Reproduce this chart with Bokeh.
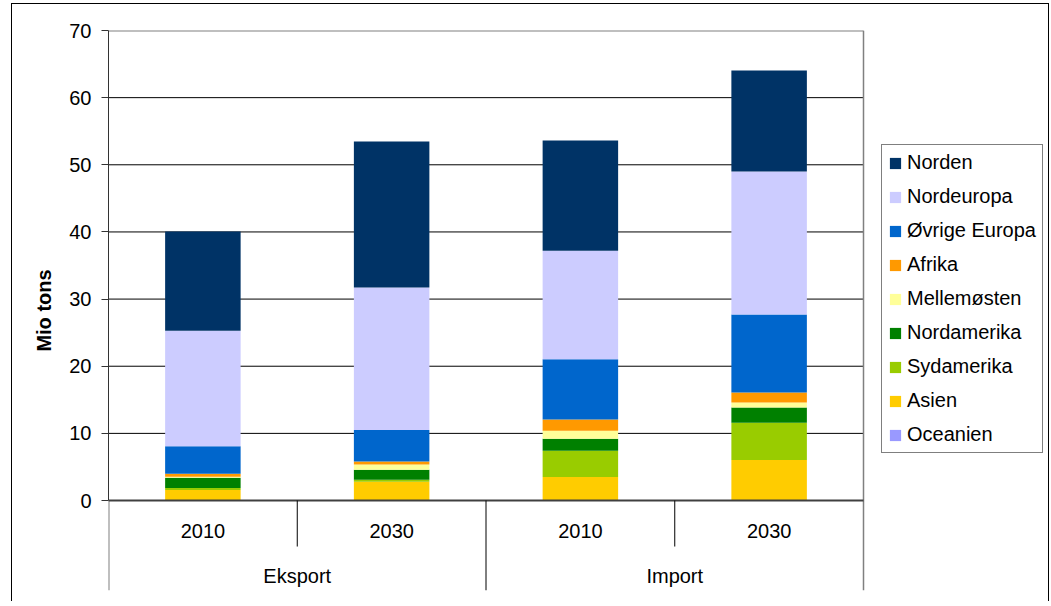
from bokeh.plotting import figure
from bokeh.models import Range1d, FixedTicker, Legend, LegendItem, ColumnDataSource
from bokeh.core.properties import value
from bokeh.embed import file_html
from bokeh.resources import INLINE

# ---------------- data ----------------
groups = ["Eksport", "Import"]
years = ["2010", "2030"]
regions = ["Oceanien", "Asien", "Sydamerika", "Nordamerika", "Mellemøsten",
           "Afrika", "Øvrige Europa", "Nordeuropa", "Norden"]
colors = ["#9999FF", "#FFCC00", "#99CC00", "#008000", "#FFFF99",
          "#FF9900", "#0066CC", "#CCCCFF", "#003366"]
oceanien = [0.0, 0.0, 0.0, 0.0]
asien = [1.57, 2.78, 3.5, 6.05]
sydamerika = [0.3, 0.3, 3.9, 5.55]
nordamerika = [1.52, 1.52, 1.8, 2.25]
mellemosten = [0.15, 0.76, 1.2, 0.75]
afrika = [0.45, 0.45, 1.65, 1.5]
ovrige_europa = [4.09, 4.7, 9.0, 11.6]
nordeuropa = [17.2, 21.23, 16.15, 21.3]
norden = [14.8, 21.74, 16.4, 15.05]
y_ticks = [0, 10, 20, 30, 40, 50, 60, 70]
y_label = "Mio tons"

series = [oceanien, asien, sydamerika, nordamerika, mellemosten,
          afrika, ovrige_europa, nordeuropa, norden]

FONT = "Liberation Sans"
n_cat = len(groups) * len(years)
x_pos = [i + 0.5 for i in range(n_cat)]
cat_year = [y for g in groups for y in years]

# layout (pixels)
W, H = 1038, 598
B_LEFT, B_TOP, B_BOTTOM, B_RIGHT = 96, 26, 12, 2
PLOT_W = 755  # width of the category area
frame_w = W - B_LEFT - B_RIGHT
x_end = n_cat * frame_w / PLOT_W

y_min = -13.4
y_max = 70

data = {"x": x_pos}
keys = []
for i, s in enumerate(series):
    k = "s%d" % i
    keys.append(k)
    data[k] = s
source = ColumnDataSource(data)

p = figure(width=W, height=H, output_backend="svg", toolbar_location=None,
           x_range=Range1d(0, x_end), y_range=Range1d(y_min, y_max),
           x_axis_location=None, min_border_left=B_LEFT, min_border_top=B_TOP,
           min_border_bottom=B_BOTTOM, min_border_right=B_RIGHT)
p.styles = {"margin-top": "3px", "margin-left": "11px",
            "border-top": "1px solid #000", "border-left": "1px solid #000",
            "border-right": "1px solid #000"}
p.background_fill_color = "white"
p.border_fill_color = "white"
p.outline_line_color = None
p.xgrid.visible = False
p.ygrid.visible = False

# grid lines (category area only)
gticks = [t for t in y_ticks if 0 < t < y_max]
p.segment(x0=[0] * len(gticks), y0=gticks, x1=[n_cat] * len(gticks), y1=gticks,
          line_color="#000000", line_width=1)

# bars
renderers = p.vbar_stack(keys, x="x", width=0.4, color=colors, line_color=None,
                         source=source)

# frame lines
p.segment(x0=[0], y0=[y_max], x1=[n_cat], y1=[y_max], line_color="#808080", line_width=2)
p.segment(x0=[n_cat], y0=[y_min], x1=[n_cat], y1=[y_max], line_color="#808080", line_width=1.5)
p.segment(x0=[0], y0=[y_min], x1=[0], y1=[0], line_color="#808080", line_width=2)
p.segment(x0=[0], y0=[0], x1=[n_cat], y1=[0], line_color="#404040", line_width=2)

# category separators
year_div = [i for i in range(1, n_cat) if i % len(years) != 0]
group_div = [i for i in range(1, n_cat) if i % len(years) == 0]
p.segment(x0=year_div, y0=[0] * len(year_div), x1=year_div, y1=[-6.85] * len(year_div),
          line_color="#000000", line_width=1)
p.segment(x0=group_div, y0=[0] * len(group_div), x1=group_div, y1=[y_min] * len(group_div),
          line_color="#000000", line_width=1)

# category labels
p.text(x=x_pos, y=[-4.5] * n_cat, text=cat_year, text_font=value(FONT),
       text_font_size="20px", text_align="center", text_baseline="middle",
       text_color="#000000")
gx = [len(years) * (i + 0.5) for i in range(len(groups))]
p.text(x=gx, y=[-11.2] * len(groups), text=groups, text_font=value(FONT),
       text_font_size="20px", text_align="center", text_baseline="middle",
       text_color="#000000")

# y axis
ax = p.yaxis[0]
ax.ticker = FixedTicker(ticks=y_ticks)
ax.bounds = (0, y_max)
ax.axis_line_color = "#333333"
ax.axis_line_width = 1
ax.major_tick_line_color = "#333333"
ax.major_tick_out = 7
ax.major_tick_in = 0
ax.minor_tick_line_color = None
ax.major_label_text_font = FONT
ax.major_label_text_font_size = "20px"
ax.major_label_text_color = "#000000"
ax.major_label_standoff = 10
ax.axis_label = y_label
ax.axis_label_text_font = FONT
ax.axis_label_text_font_size = "20px"
ax.axis_label_text_font_style = "bold"
ax.axis_label_text_color = "#000000"
ax.axis_label_standoff = 11

# legend
items = [LegendItem(label=regions[i], renderers=[renderers[i]])
         for i in range(len(regions) - 1, -1, -1)]
legend = Legend(items=items, location=(773, 137))
legend.label_text_font = FONT
legend.label_text_font_size = "20px"
legend.label_text_color = "#000000"
legend.glyph_width = 14
legend.glyph_height = 14
legend.label_height = 20
legend.label_standoff = 5
legend.spacing = 11
legend.padding = 6
legend.margin = 0
legend.border_line_color = "#000000"
legend.border_line_width = 1
legend.background_fill_color = "white"
legend.background_fill_alpha = 1
p.add_layout(legend, "center")

open("out.html", "w").write(file_html(p, INLINE))
